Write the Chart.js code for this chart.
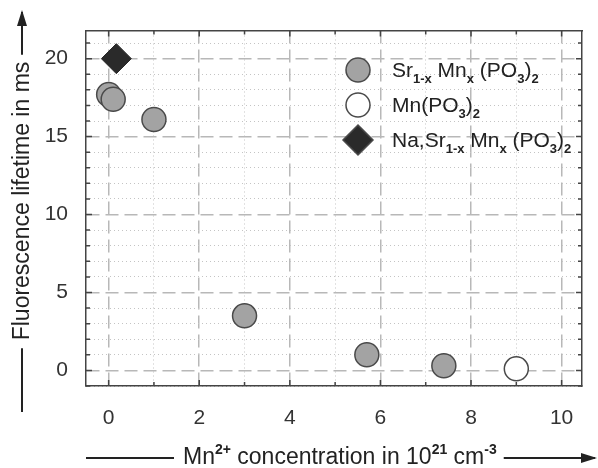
<!DOCTYPE html>
<html>
<head>
<meta charset="utf-8">
<script src="https://cdn.jsdelivr.net/npm/chart.js@4"></script>
<style>
  html, body { margin: 0; padding: 0; background: #fff; }
  #wrap { width: 598px; height: 468px; }
</style>
</head>
<body>
<div id="wrap"><canvas id="grafico" width="598" height="468"></canvas></div>
<script>
// datos
const srX = [0, 0.1, 1.0, 3.0, 5.7, 7.4];
const srY = [17.7, 17.4, 16.1, 3.5, 1.0, 0.3];
const mnX = [9.0];
const mnY = [0.1];
const naX = [0.17];
const naY = [20.0];

const xMajor = [0, 2, 4, 6, 8, 10];
const xMinor = [1, 3, 5, 7, 9];
const yMajor = [0, 5, 10, 15, 20];
const yMinor = [-1, 1, 2, 3, 4, 6, 7, 8, 9, 11, 12, 13, 14, 16, 17, 18, 19, 21];

const FONT = '"Liberation Sans", Arial, sans-serif';

// textos con sub/superindices
const legSr = [['Sr', 'n'], ['1-x', 'sub'], [' Mn', 'n'], ['x', 'sub'], [' (PO', 'n'], ['3', 'sub'], [')', 'n'], ['2', 'sub']];
const legMn = [['Mn(PO', 'n'], ['3', 'sub'], [')', 'n'], ['2', 'sub']];
const legNa = [['Na,Sr', 'n'], ['1-x', 'sub'], [' Mn', 'n'], ['x', 'sub'], [' (PO', 'n'], ['3', 'sub'], [')', 'n'], ['2', 'sub']];
const tituloX = [['Mn', 'n'], ['2+', 'sup'], [' concentration in 10', 'n'], ['21', 'sup'], [' cm', 'n'], ['-3', 'sup']];
const tituloY = 'Fluorescence lifetime in ms';

function fuente(k, size) {
    if (k === 'n') return size + 'px ' + FONT;
    return 'bold ' + Math.round(size * 0.62) + 'px ' + FONT;
}

function dibujarRico(ctx, segs, x, y, size) {
    ctx.textAlign = 'left';
    ctx.textBaseline = 'alphabetic';
    segs.forEach(s => {
        ctx.font = fuente(s[1], size);
        let dy = 0;
        if (s[1] === 'sup') dy = -size * 0.42;
        if (s[1] === 'sub') dy = size * 0.28;
        ctx.fillText(s[0], x, y + dy);
        x += ctx.measureText(s[0]).width;
    });
    return x;
}

function flecha(ctx, x1, y1, x2, y2) {
    ctx.beginPath();
    ctx.moveTo(x1, y1);
    ctx.lineTo(x2, y2);
    ctx.stroke();
    const a = Math.atan2(y2 - y1, x2 - x1);
    const L = 14, W = 5;
    ctx.beginPath();
    ctx.moveTo(x2 + Math.cos(a) * 2, y2 + Math.sin(a) * 2);
    ctx.lineTo(x2 - Math.cos(a) * L - Math.sin(a) * W, y2 - Math.sin(a) * L + Math.cos(a) * W);
    ctx.lineTo(x2 - Math.cos(a) * L + Math.sin(a) * W, y2 - Math.sin(a) * L - Math.cos(a) * W);
    ctx.closePath();
    ctx.fill();
}

// marcas de los ejes hacia adentro, titulos y leyenda
const extras = {
    id: 'extras',
    afterDraw(chart) {
        const ctx = chart.ctx;
        const a = chart.chartArea;
        const sx = chart.scales.x, sy = chart.scales.y;
        ctx.save();
        ctx.strokeStyle = '#444';
        ctx.lineWidth = 1.5;
        for (let v = 0; v <= 10; v++) {
            const px = sx.getPixelForValue(v);
            const len = v % 2 === 0 ? 6 : 4;
            ctx.beginPath();
            ctx.moveTo(px, a.bottom); ctx.lineTo(px, a.bottom - len);
            ctx.moveTo(px, a.top); ctx.lineTo(px, a.top + len);
            ctx.stroke();
        }
        for (let v = -1; v <= 21; v++) {
            const py = sy.getPixelForValue(v);
            const len = v % 5 === 0 ? 6 : 4;
            ctx.beginPath();
            ctx.moveTo(a.left, py); ctx.lineTo(a.left + len, py);
            ctx.moveTo(a.right, py); ctx.lineTo(a.right - len, py);
            ctx.stroke();
        }

        // titulo eje x
        ctx.fillStyle = '#222';
        ctx.strokeStyle = '#222';
        ctx.lineWidth = 2;
        const size = 23;
        const x0 = 183, base = 464;
        const xf = dibujarRico(ctx, tituloX, x0, base, size);
        ctx.beginPath();
        ctx.moveTo(86, base - 6); ctx.lineTo(x0 - 9, base - 6);
        ctx.stroke();
        flecha(ctx, xf + 7, base - 6, 595, base - 6);

        // titulo eje y (rotado)
        ctx.save();
        ctx.translate(29, 201);
        ctx.rotate(-Math.PI / 2);
        ctx.font = size + 'px ' + FONT;
        const w = ctx.measureText(tituloY).width;
        ctx.textAlign = 'center';
        ctx.fillText(tituloY, 0, 0);
        ctx.beginPath();
        ctx.moveTo(-w / 2 - 8, -7); ctx.lineTo(-211, -7);
        ctx.stroke();
        flecha(ctx, w / 2 + 7, -7, 189, -7);
        ctx.restore();

        // leyenda
        const filas = [
            { segs: legSr, y: 70, tipo: 'circ', fondo: '#a3a3a3' },
            { segs: legMn, y: 105, tipo: 'circ', fondo: '#ffffff' },
            { segs: legNa, y: 140, tipo: 'diam', fondo: '#2a2a2a' }
        ];
        filas.forEach(f => {
            ctx.lineWidth = 1.5;
            ctx.strokeStyle = '#4a4a4a';
            ctx.fillStyle = f.fondo;
            ctx.beginPath();
            if (f.tipo === 'circ') {
                ctx.arc(358, f.y, 12, 0, Math.PI * 2);
            } else {
                ctx.moveTo(358, f.y - 15); ctx.lineTo(373, f.y);
                ctx.lineTo(358, f.y + 15); ctx.lineTo(343, f.y);
                ctx.closePath();
            }
            ctx.fill();
            ctx.stroke();
            ctx.fillStyle = '#222';
            dibujarRico(ctx, f.segs, 392, f.y + 7, 21);
        });
        ctx.restore();
    }
};

const gridMayor = { color: '#b8b8b8', lineWidth: 1.5, drawTicks: false };
const bordeMayor = { display: true, color: '#444', width: 1.5, dash: [13, 6] };
const gridMenor = { color: '#c4c4c4', lineWidth: 1, drawTicks: false };
const bordeMenor = { display: true, color: '#444', width: 1.5, dash: [1, 3] };

const ctx = document.getElementById('grafico').getContext('2d');
new Chart(ctx, {
    type: 'scatter',
    data: {
        datasets: [
            {
                label: 'Sr1-xMnx(PO3)2',
                data: srX.map((x, i) => ({ x: x, y: srY[i] })),
                pointStyle: 'circle',
                pointRadius: 12,
                backgroundColor: '#a3a3a3',
                borderColor: '#4a4a4a',
                borderWidth: 1.5
            },
            {
                label: 'Mn(PO3)2',
                data: mnX.map((x, i) => ({ x: x, y: mnY[i] })),
                pointStyle: 'circle',
                pointRadius: 12,
                backgroundColor: '#ffffff',
                borderColor: '#4a4a4a',
                borderWidth: 1.5
            },
            {
                label: 'Na,Sr1-xMnx(PO3)2',
                data: naX.map((x, i) => ({ x: x, y: naY[i] })),
                pointStyle: 'rectRot',
                pointRadius: 15,
                backgroundColor: '#2a2a2a',
                borderColor: '#2a2a2a',
                borderWidth: 1
            }
        ]
    },
    options: {
        responsive: false,
        animation: false,
        layout: { padding: 0 },
        plugins: { legend: { display: false }, tooltip: { enabled: false } },
        scales: {
            x: {
                type: 'linear', position: 'bottom', min: -0.5, max: 10.45,
                afterBuildTicks: s => { s.ticks = xMajor.map(v => ({ value: v })); },
                afterFit: s => { s.height = 82; },
                grid: gridMayor, border: bordeMayor,
                ticks: { font: { size: 21, family: FONT }, color: '#333', padding: 20 }
            },
            x2: {
                type: 'linear', position: 'top', min: -0.5, max: 10.45,
                afterBuildTicks: s => { s.ticks = xMinor.map(v => ({ value: v })); },
                afterFit: s => { s.height = 13; },
                grid: gridMenor, border: bordeMenor,
                ticks: { display: false }
            },
            y: {
                type: 'linear', position: 'left', min: -1, max: 21.8,
                afterBuildTicks: s => { s.ticks = yMajor.map(v => ({ value: v })); },
                afterFit: s => { s.width = 86; },
                grid: gridMayor, border: bordeMayor,
                ticks: { font: { size: 21, family: FONT }, color: '#333', padding: 18 }
            },
            y2: {
                type: 'linear', position: 'right', min: -1, max: 21.8,
                afterBuildTicks: s => { s.ticks = yMinor.map(v => ({ value: v })); },
                afterFit: s => { s.width = 0; },
                grid: gridMenor, border: bordeMenor,
                ticks: { display: false }
            }
        }
    },
    plugins: [extras]
});
</script>
</body>
</html>
